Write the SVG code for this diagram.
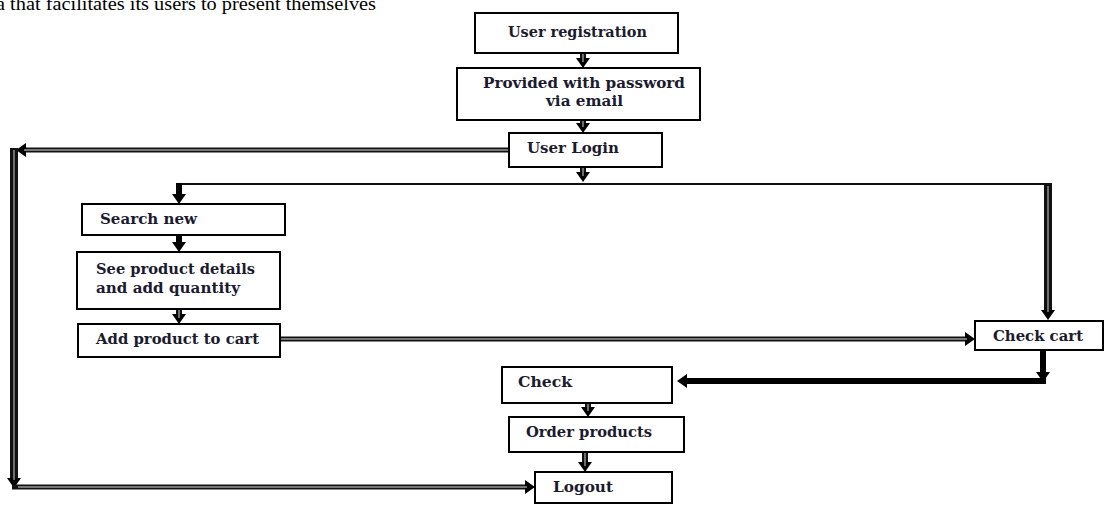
<svg xmlns="http://www.w3.org/2000/svg" width="1105" height="505" viewBox="0 0 1105 505">
<style>
.box{fill:#fff;stroke:#000;stroke-width:2}
.lbl{font-family:"DejaVu Serif","Liberation Serif",serif;font-weight:bold;font-size:14.5px;fill:#1b1b2e}
.top{font-family:"Liberation Serif","Times New Roman",serif;font-size:18px;fill:#000}
.dbl{fill:none;stroke:#111;stroke-width:6}
.dbl5{fill:none;stroke:#111;stroke-width:5}
.dbl8{fill:none;stroke:#111;stroke-width:8}
.core{fill:none;stroke:#999;stroke-width:1.4}
.thin{fill:none;stroke:#111;stroke-width:2}
.solid{fill:none;stroke:#000;stroke-width:6}
</style>
<defs>
<marker id="ah" markerUnits="userSpaceOnUse" markerWidth="12" markerHeight="14" refX="4" refY="7" orient="auto"><path d="M0,0 L10,7 L0,14 Z" fill="#000"/></marker>
</defs>
<text class="top" x="-4" y="10" textLength="380" lengthAdjust="spacingAndGlyphs">a that facilitates its users to present themselves</text>
<g id="connectors">
<path class="thin" d="M178,184 H1051"/>
<path class="dbl" d="M583,53 V62" marker-end="url(#ah)"/><path class="core" d="M583,53 V62"/>
<path class="dbl" d="M583,120 V127" marker-end="url(#ah)"/><path class="core" d="M583,120 V127"/>
<path class="dbl" d="M583,167 V176" marker-end="url(#ah)"/><path class="core" d="M583,167 V176"/>
<path class="solid" d="M179,183 V198" marker-end="url(#ah)"/>
<path class="solid" d="M179,235 V246" marker-end="url(#ah)"/>
<path class="dbl" d="M179,309 V318" marker-end="url(#ah)"/><path class="core" d="M179,309 V318"/>
<path class="dbl8" d="M1048,183 V314" marker-end="url(#ah)"/><path class="core" d="M1048,186 V312"/>
<path class="dbl5" d="M281,339 H969" marker-end="url(#ah)"/><path class="core" d="M281,339 H967"/>
<path class="solid" d="M1043,350 V376" marker-end="url(#ah)"/>
<path class="solid" d="M1046,381 H683" marker-end="url(#ah)"/>
<path class="dbl5" d="M509,150 H22" marker-end="url(#ah)"/><path class="core" d="M509,150 H24"/>
<path class="dbl8" d="M14,148 V482" marker-end="url(#ah)"/><path class="core" d="M14,150 V480"/>
<path class="dbl5" d="M12,487 H529" marker-end="url(#ah)"/><path class="core" d="M18,487 H527"/>
<path class="dbl" d="M588,403 V411" marker-end="url(#ah)"/><path class="core" d="M588,403 V411"/>
<path class="dbl" d="M585,452 V466" marker-end="url(#ah)"/><path class="core" d="M585,452 V466"/>
</g>
<g id="user-registration"><rect class="box" x="475" y="13" width="203" height="40"/><text class="lbl" x="508" y="37" textLength="139" lengthAdjust="spacingAndGlyphs">User registration</text></g>
<g id="password-email"><rect class="box" x="457" y="68" width="243" height="52"/><text class="lbl" x="483" y="88" textLength="202" lengthAdjust="spacingAndGlyphs">Provided with password</text><text class="lbl" x="546" y="106" textLength="77" lengthAdjust="spacingAndGlyphs">via email</text></g>
<g id="user-login"><rect class="box" x="509" y="133" width="153" height="34"/><text class="lbl" x="527" y="153" textLength="92" lengthAdjust="spacingAndGlyphs">User Login</text></g>
<g id="search-new"><rect class="box" x="82" y="204" width="203" height="31"/><text class="lbl" x="100" y="224" textLength="97" lengthAdjust="spacingAndGlyphs">Search new</text></g>
<g id="product-details"><rect class="box" x="77" y="252" width="203" height="57"/><text class="lbl" x="96" y="274" textLength="159" lengthAdjust="spacingAndGlyphs">See product details</text><text class="lbl" x="96" y="293" textLength="144" lengthAdjust="spacingAndGlyphs">and add quantity</text></g>
<g id="add-to-cart"><rect class="box" x="78" y="324" width="202" height="33"/><text class="lbl" x="96" y="344" textLength="163" lengthAdjust="spacingAndGlyphs">Add product to cart</text></g>
<g id="check-cart"><rect class="box" x="975" y="321" width="128" height="29"/><text class="lbl" x="993" y="341" textLength="90" lengthAdjust="spacingAndGlyphs">Check cart</text></g>
<g id="check"><rect class="box" x="502" y="367" width="170" height="36"/><text class="lbl" x="518" y="387" textLength="54" lengthAdjust="spacingAndGlyphs">Check</text></g>
<g id="order-products"><rect class="box" x="509" y="417" width="175" height="35"/><text class="lbl" x="526" y="437" textLength="126" lengthAdjust="spacingAndGlyphs">Order products</text></g>
<g id="logout"><rect class="box" x="535" y="472" width="137" height="31"/><text class="lbl" x="553" y="492" textLength="60" lengthAdjust="spacingAndGlyphs">Logout</text></g>
</svg>
